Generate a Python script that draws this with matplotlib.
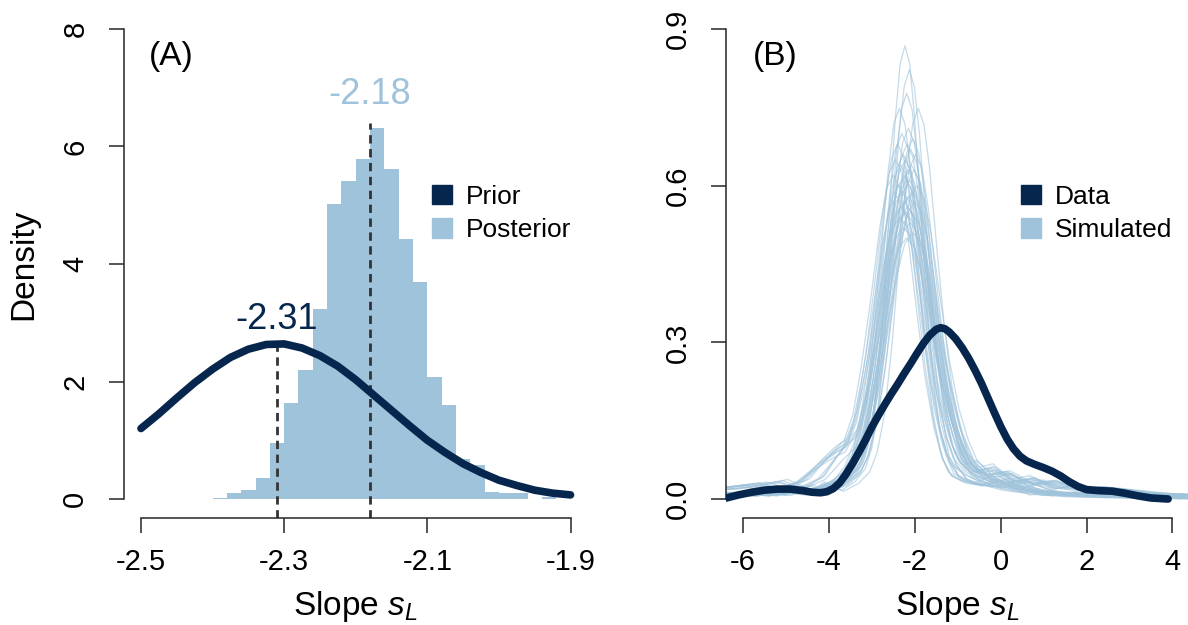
import matplotlib
matplotlib.use("Agg")
import matplotlib.pyplot as plt
import numpy as np
from matplotlib.patches import Patch

plt.rcParams["font.family"] = ["Liberation Sans", "DejaVu Sans"]
plt.rcParams["mathtext.fontset"] = "custom"
plt.rcParams["mathtext.rm"] = "Liberation Sans"
plt.rcParams["mathtext.it"] = "Liberation Sans:italic"
plt.rcParams["axes.unicode_minus"] = False

NAVY = "#06264d"
LIGHT = "#9fc3db"
AXIS_COL = "#262626"

# ---- panel A: posterior histogram (bin width 0.02) ----
post_bin_left = [-2.40, -2.38, -2.36, -2.34, -2.32, -2.30, -2.28, -2.26, -2.24, -2.22,
                 -2.20, -2.18, -2.16, -2.14, -2.12, -2.10, -2.08, -2.06, -2.04, -2.02,
                 -2.00, -1.98, -1.96, -1.94]
post_density = [0.02, 0.10, 0.15, 0.35, 0.96, 1.64, 2.20, 3.23, 5.02, 5.42,
                5.79, 6.32, 5.62, 4.42, 3.70, 2.08, 1.60, 0.68, 0.58, 0.12,
                0.10, 0.10, 0.0, 0.04]
bin_width = 0.02

# prior density curve
prior_x = [-2.500, -2.475, -2.450, -2.425, -2.400, -2.375, -2.350, -2.325, -2.300,
           -2.275, -2.250, -2.225, -2.200, -2.175, -2.150, -2.125, -2.100, -2.075,
           -2.050, -2.025, -2.000, -1.975, -1.950, -1.925, -1.900]
prior_y = [1.20, 1.45, 1.72, 1.98, 2.21, 2.41, 2.55, 2.63, 2.64,
           2.57, 2.44, 2.26, 2.03, 1.77, 1.51, 1.25, 1.00, 0.79,
           0.60, 0.45, 0.32, 0.23, 0.15, 0.10, 0.07]

prior_mode, prior_mode_h = -2.31, 2.70
post_mode, post_mode_h = -2.18, 6.40

a_xticks = [-2.5, -2.3, -2.1, -1.9]
a_xlabels = ["-2.5", "-2.3", "-2.1", "-1.9"]
a_yticks = [0, 2, 4, 6, 8]
a_ylabels = ["0", "2", "4", "6", "8"]

# ---- panel B: observed density and simulated densities ----
data_x = [-6.39, -6.10, -5.80, -5.50, -5.20, -4.90, -4.60, -4.40, -4.20, -4.05,
          -3.90, -3.75, -3.60, -3.45, -3.30, -3.15, -3.00, -2.85, -2.70, -2.55,
          -2.40, -2.25, -2.10, -1.95, -1.80, -1.65, -1.50, -1.40, -1.30, -1.20,
          -1.05, -0.90, -0.75, -0.60, -0.45, -0.30, -0.15, 0.00, 0.15, 0.30,
          0.45, 0.60, 0.80, 1.00, 1.20, 1.40, 1.60, 1.80, 2.00, 2.30,
          2.60, 2.90, 3.20, 3.50, 3.90]
data_y = [0.002, 0.008, 0.013, 0.017, 0.019, 0.019, 0.016, 0.013, 0.012, 0.014,
          0.020, 0.031, 0.048, 0.068, 0.090, 0.113, 0.138, 0.160, 0.181, 0.201,
          0.220, 0.240, 0.259, 0.279, 0.298, 0.314, 0.325, 0.328, 0.326, 0.320,
          0.307, 0.290, 0.270, 0.247, 0.222, 0.194, 0.166, 0.139, 0.115, 0.096,
          0.082, 0.073, 0.066, 0.060, 0.053, 0.044, 0.033, 0.024, 0.018, 0.016,
          0.015, 0.011, 0.006, 0.002, 0.000]

# simulated curves: peak position, peak height and profile type
sim_center = [-2.23, -2.13, -2.19, -2.36, -1.92, -2.15, -2.30, -2.05, -2.40, -2.18,
              -2.10, -2.27, -1.98, -2.45, -2.22, -2.08, -2.33, -2.16, -2.02, -2.25,
              -2.50, -2.12, -2.20, -1.95, -2.38, -2.28, -2.06, -2.14, -2.42, -2.24,
              -2.00, -2.32, -2.17, -2.09, -2.21, -2.35, -2.11, -2.26, -2.04, -2.19]
sim_peak = [0.868, 0.822, 0.777, 0.748, 0.748, 0.71, 0.70, 0.69, 0.68, 0.68,
            0.67, 0.66, 0.66, 0.65, 0.65, 0.64, 0.64, 0.63, 0.63, 0.62,
            0.62, 0.61, 0.61, 0.60, 0.60, 0.59, 0.59, 0.58, 0.58, 0.57,
            0.57, 0.56, 0.56, 0.55, 0.55, 0.54, 0.53, 0.52, 0.51, 0.50]
sim_kind = [0, 2, 0, 1, 2, 0, 1, 2, 0, 0, 2, 1, 0, 1, 2, 0, 2, 0, 1, 2,
            1, 0, 2, 2, 1, 0, 2, 0, 1, 2, 0, 1, 2, 0, 2, 1, 0, 2, 0, 1]

# profile shapes (offset from peak, relative height)
sim_dx = [-8.0, -4.0, -3.0, -2.5, -2.0, -1.6, -1.3, -1.1, -0.9, -0.7, -0.5, -0.3, -0.15,
          0.0, 0.15, 0.3, 0.5, 0.7, 0.9, 1.1, 1.3, 1.6, 2.0, 2.5, 3.0, 3.5, 4.0, 5.0, 8.0]
sim_profiles = [
    [0.0, 0.01, 0.015, 0.02, 0.03, 0.05, 0.08, 0.13, 0.23, 0.40, 0.62, 0.84, 0.96,
     1.0, 0.96, 0.84, 0.62, 0.41, 0.25, 0.15, 0.10, 0.07, 0.05, 0.03, 0.02, 0.015, 0.01, 0.005, 0.0],
    [0.0, 0.03, 0.05, 0.03, 0.06, 0.12, 0.16, 0.18, 0.26, 0.42, 0.62, 0.84, 0.96,
     1.0, 0.96, 0.84, 0.60, 0.38, 0.22, 0.12, 0.07, 0.05, 0.04, 0.06, 0.03, 0.01, 0.02, 0.01, 0.0],
    [0.0, 0.02, 0.01, 0.04, 0.02, 0.04, 0.07, 0.12, 0.22, 0.40, 0.63, 0.85, 0.96,
     1.0, 0.96, 0.85, 0.64, 0.44, 0.29, 0.19, 0.12, 0.08, 0.09, 0.05, 0.06, 0.03, 0.04, 0.02, 0.0],
]
sim_ref_peak = 0.65

b_xticks = [-6, -4, -2, 0, 2, 4]
b_xlabels = ["-6", "-4", "-2", "0", "2", "4"]
b_yticks = [0.0, 0.3, 0.6, 0.9]
b_ylabels = ["0.0", "0.3", "0.6", "0.9"]


def r_axes(ax, xticks, xlabels, yticks, ylabels):
    # R-like axes: 4% padding, axis lines only across the tick range
    xr = xticks[-1] - xticks[0]
    yr = yticks[-1] - yticks[0]
    ax.set_xlim(xticks[0] - 0.04 * xr, xticks[-1] + 0.04 * xr)
    ax.set_ylim(yticks[0] - 0.04 * yr, yticks[-1] + 0.04 * yr)
    for s in ["top", "right"]:
        ax.spines[s].set_visible(False)
    ax.spines["bottom"].set_bounds(xticks[0], xticks[-1])
    ax.spines["left"].set_bounds(yticks[0], yticks[-1])
    for s in ["bottom", "left"]:
        ax.spines[s].set_color(AXIS_COL)
        ax.spines[s].set_linewidth(1.1)
    ax.set_xticks(xticks)
    ax.set_xticklabels(xlabels)
    ax.set_yticks(yticks)
    ax.set_yticklabels(ylabels, rotation=90, va="center")
    ax.tick_params(direction="out", length=10.8, width=1.1, color=AXIS_COL,
                   labelsize=21, labelcolor="black")
    ax.tick_params(axis="x", pad=11)
    ax.tick_params(axis="y", pad=14)
    ax.set_xlabel("Slope $s_L$", fontsize=24, labelpad=9)


fig = plt.figure(figsize=(11.88, 6.25), dpi=100)
ax_a = fig.add_axes([0.1042, 0.1715, 0.3905, 0.8122])
ax_b = fig.add_axes([0.6111, 0.1715, 0.3902, 0.8122])

# panel A
ax_a.bar(post_bin_left, post_density, width=bin_width, align="edge",
         color=LIGHT, linewidth=0, zorder=1)
ax_a.plot(prior_x, prior_y, color=NAVY, lw=5.5, solid_capstyle="round", zorder=3)
ax_a.vlines([prior_mode, post_mode], -0.32, [prior_mode_h, post_mode_h],
            colors="#333333", linestyles=(0, (3, 2)), lw=2, zorder=2)
ax_a.text(prior_mode, 3.06, "-2.31", color=NAVY, fontsize=26, ha="center", va="center")
ax_a.text(post_mode, 6.89, "-2.18", color=LIGHT, fontsize=26, ha="center", va="center")
ax_a.text(-2.458, 7.54, "(A)", fontsize=24, ha="center", va="center")
r_axes(ax_a, a_xticks, a_xlabels, a_yticks, a_ylabels)
ax_a.set_ylabel("Density", fontsize=24, labelpad=16)
ax_a.legend(handles=[Patch(color=NAVY, label="Prior"), Patch(color=LIGHT, label="Posterior")],
            loc="upper left", bbox_to_anchor=(0.665, 0.656), frameon=False, fontsize=19,
            handlelength=0.76, handleheight=0.76, handletextpad=0.5, labelspacing=0.35,
            borderpad=0, borderaxespad=0)

# panel B
for c, p, k in zip(sim_center, sim_peak, sim_kind):
    w = sim_ref_peak / p
    xs = [c + d * w for d in sim_dx]
    ys = [p * r for r in sim_profiles[k]]
    ax_b.plot(xs, ys, color=LIGHT, lw=0.9, alpha=0.6, zorder=1)
ax_b.plot(data_x, data_y, color=NAVY, lw=5.5, solid_capstyle="round",
          solid_joinstyle="round", zorder=3)
ax_b.text(-5.26, 0.848, "(B)", fontsize=24, ha="center", va="center")
r_axes(ax_b, b_xticks, b_xlabels, b_yticks, b_ylabels)
ax_b.legend(handles=[Patch(color=NAVY, label="Data"), Patch(color=LIGHT, label="Simulated")],
            loc="upper left", bbox_to_anchor=(0.637, 0.656), frameon=False, fontsize=19,
            handlelength=0.76, handleheight=0.76, handletextpad=0.5, labelspacing=0.35,
            borderpad=0, borderaxespad=0)

fig.savefig("out.png", dpi=100)
